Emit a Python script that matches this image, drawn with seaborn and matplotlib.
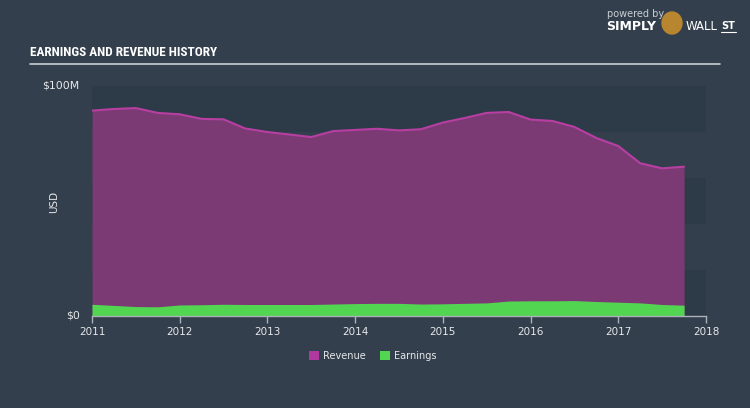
import matplotlib
matplotlib.use("Agg")
import matplotlib.pyplot as plt
import seaborn as sns
import pandas as pd
from matplotlib.patches import Patch, Ellipse

# ---- data (USD millions), quarterly readings ----
years = [2011.00, 2011.25, 2011.50, 2011.75, 2012.00, 2012.25, 2012.50, 2012.75,
         2013.00, 2013.25, 2013.50, 2013.75, 2014.00, 2014.25, 2014.50, 2014.75,
         2015.00, 2015.25, 2015.50, 2015.75, 2016.00, 2016.25, 2016.50, 2016.75,
         2017.00, 2017.25, 2017.50, 2017.75]
revenue = [89.3, 90.0, 90.4, 88.3, 87.7, 85.7, 85.5, 81.5,
           80.0, 78.9, 77.8, 80.4, 80.9, 81.4, 80.7, 81.2,
           84.1, 86.1, 88.3, 88.7, 85.4, 84.8, 82.2, 77.4,
           73.9, 66.4, 64.2, 64.9]
earnings = [5.1, 4.6, 4.1, 4.0, 4.8, 4.9, 5.1, 5.0,
            5.0, 5.0, 5.0, 5.2, 5.4, 5.5, 5.5, 5.2,
            5.3, 5.5, 5.7, 6.5, 6.6, 6.6, 6.7, 6.3,
            6.0, 5.7, 5.0, 4.7]
xtick_years = [2011, 2012, 2013, 2014, 2015, 2016, 2017, 2018]
ytick_vals = [0, 100]
ytick_labels = ["$0", "$100M"]
band_edges = [0, 20, 40, 60, 80, 100]

df = pd.DataFrame({"year": years, "Revenue": revenue, "Earnings": earnings})

BG = "#333f4c"
BAND = "#2d3a48"
REV_FILL = "#7b3a74"
REV_LINE = "#b83fa2"
EARN = "#52d652"
TXT = "#e6e8ea"

sns.set_theme(style="white")
plt.rcParams["font.family"] = ["DejaVu Sans"]

fig = plt.figure(figsize=(7.5, 4.08), dpi=100, facecolor=BG)
ax = fig.add_axes([92/750, (408-316)/408, (706-92)/750, (316-86)/408])
ax.set_facecolor(BG)

# horizontal bands
for i in range(0, len(band_edges) - 1):
    if i % 2 == 0:
        ax.axhspan(band_edges[i], band_edges[i+1], color=BAND, lw=0, zorder=0)

ax.fill_between(df["year"], 0, df["Revenue"], color=REV_FILL, lw=0, zorder=2)
sns.lineplot(data=df, x="year", y="Revenue", ax=ax, color=REV_LINE, lw=1.5, zorder=3)
ax.fill_between(df["year"], 0, df["Earnings"], color=EARN, lw=0, zorder=4)

ax.set_xlim(2011, 2018)
ax.set_ylim(0, 100)
ax.set_xticks(xtick_years)
ax.set_xticklabels([str(y) for y in xtick_years], color=TXT, fontsize=7.5)
ax.set_yticks([])
ax.set_xlabel("")
ax.set_ylabel("")
for s in ["top", "right", "left"]:
    ax.spines[s].set_visible(False)
ax.spines["bottom"].set_color("#aab2ba")
ax.spines["bottom"].set_linewidth(1)
ax.spines["bottom"].set_zorder(5)
ax.tick_params(axis="x", which="both", bottom=True, length=5, width=1, color="#aab2ba", pad=3)

for v, lab in zip(ytick_vals, ytick_labels):
    ax.text(-0.02, v, lab, transform=ax.get_yaxis_transform(), ha="right",
            va="center", color=TXT, fontsize=7.8)
fig.text(54/750, 1 - 202/408, "USD", rotation=90, ha="center", va="center",
         color=TXT, fontsize=7.5)

# title and rule
fig.text(30/750, 1 - 52/408, "EARNINGS AND REVENUE HISTORY", color="white",
         fontsize=9.5, fontweight="bold",
         family=["Roboto Condensed", "Open Sans Condensed", "DejaVu Sans Condensed",
                 "Liberation Sans Narrow", "Roboto", "DejaVu Sans"],
         fontstretch="condensed", ha="left", va="center")
fig.add_artist(plt.Line2D([30/750, 720/750], [1 - 64/408, 1 - 64/408],
                          color="#c9ced3", lw=1.2, transform=fig.transFigure))

# logo
fig.text(607/750, 1 - 14/408, "powered by", color="#c9ced3", fontsize=7, ha="left", va="center")
fig.text(606/750, 1 - 27/408, "SIMPLY", color="white", fontsize=9, fontweight="bold",
         ha="left", va="center")
fig.add_artist(Ellipse((672/750, 1 - 23/408), 20/750, 22/408, transform=fig.transFigure,
                       color="#b8862e", zorder=5))
fig.text(686/750, 1 - 27/408, "WALL", color="white", fontsize=8.5, ha="left", va="center")
fig.text(721/750, 1 - 26/408, "ST", color="white", fontsize=7, fontweight="bold",
         ha="left", va="center")
fig.add_artist(plt.Line2D([721/750, 736/750], [1 - 32/408, 1 - 32/408],
                          color="white", lw=0.8, transform=fig.transFigure))

# legend
handles = [Patch(facecolor="#b0399e", edgecolor="none", label="Revenue"),
           Patch(facecolor=EARN, edgecolor="none", label="Earnings")]
leg = fig.legend(handles=handles, loc="center", bbox_to_anchor=(0.497, 1 - 356/408),
                 ncol=2, frameon=False, fontsize=7, handlelength=1.1, handleheight=1.1,
                 columnspacing=1.4, handletextpad=0.4)
for t in leg.get_texts():
    t.set_color(TXT)

fig.savefig("out.png", dpi=100, facecolor=BG)
